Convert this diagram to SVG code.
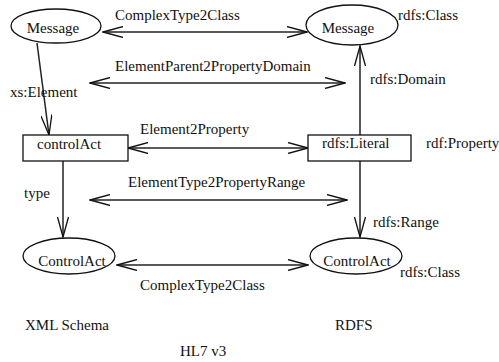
<svg xmlns="http://www.w3.org/2000/svg" width="499" height="362" viewBox="0 0 499 362">
<defs>
<marker id="ah" markerWidth="22" markerHeight="12" refX="21" refY="6" orient="auto-start-reverse" markerUnits="userSpaceOnUse">
<path d="M1,0.5 L21,6 L1,11.5" fill="none" stroke="#111" stroke-width="1.3"/>
</marker>
<style>
.n{fill:#fff;stroke:#111;stroke-width:1.3}
.c{stroke:#222;stroke-width:1.5;fill:none}
.s{marker-end:url(#ah)}
.d{marker-start:url(#ah);marker-end:url(#ah)}
</style>
</defs>
<rect width="499" height="362" fill="#fff"/>
<g font-family="Liberation Serif, serif" font-size="15" fill="#111">
<g id="connectors">
<line class="c d" x1="103" y1="32" x2="307" y2="32"/>
<line class="c d" x1="90" y1="83" x2="345" y2="83"/>
<line class="c d" x1="128" y1="148" x2="308" y2="148"/>
<line class="c d" x1="90" y1="200" x2="347" y2="200"/>
<line class="c d" x1="117" y1="265" x2="308" y2="265"/>
<line class="c s" x1="37" y1="43" x2="49" y2="135"/>
<line class="c s" x1="63" y1="161" x2="63" y2="237"/>
<line class="c s" x1="360" y1="135" x2="360" y2="46"/>
<line class="c s" x1="360" y1="161" x2="360" y2="237"/>
<text x="115" y="20">ComplexType2Class</text>
<text x="115" y="71">ElementParent2PropertyDomain</text>
<text x="140" y="134">Element2Property</text>
<text x="128" y="187">ElementType2PropertyRange</text>
<text x="140" y="290">ComplexType2Class</text>
<text x="10" y="97">xs:Element</text>
<text x="24" y="198">type</text>
<text x="370" y="84">rdfs:Domain</text>
<text x="373" y="227">rdfs:Range</text>
</g>
<g id="msgXml">
<ellipse class="n" cx="56" cy="26" rx="45" ry="17"/>
<text x="53" y="33" text-anchor="middle">Message</text>
</g>
<g id="msgRdfs">
<ellipse class="n" cx="352" cy="25" rx="46" ry="20"/>
<text x="348" y="33" text-anchor="middle">Message</text>
<text x="398" y="20">rdfs:Class</text>
</g>
<g id="controlAct">
<rect class="n" x="23" y="135" width="105" height="26"/>
<text x="37" y="149">controlAct</text>
</g>
<g id="literal">
<rect class="n" x="308" y="135" width="103" height="26"/>
<text x="322" y="148">rdfs:Literal</text>
<text x="426" y="148">rdf:Property</text>
</g>
<g id="ctXml">
<ellipse class="n" cx="69" cy="256" rx="46" ry="18"/>
<text x="72" y="266" text-anchor="middle">ControlAct</text>
</g>
<g id="ctRdfs">
<ellipse class="n" cx="356" cy="256" rx="46" ry="18"/>
<text x="357" y="266" text-anchor="middle">ControlAct</text>
<text x="400" y="277">rdfs:Class</text>
</g>
<g id="labels">
<text x="25" y="330">XML Schema</text>
<text x="335" y="330">RDFS</text>
<text x="180" y="356">HL7 v3</text>
</g>
</g>
</svg>
